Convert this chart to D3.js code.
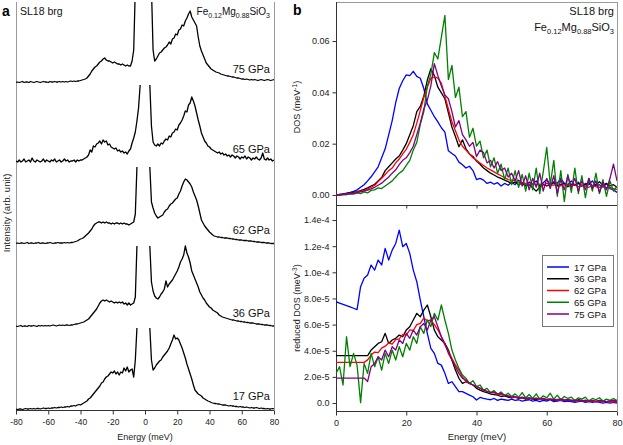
<!DOCTYPE html>
<html><head><meta charset="utf-8">
<script src="https://cdn.jsdelivr.net/npm/d3@7"></script>
<style>body{margin:0;background:#fff}svg{display:block}text{font-family:"Liberation Sans",Arial,Helvetica,sans-serif}</style>
</head><body>
<svg id="c" width="623" height="445"></svg>
<script>
// ---------- DATA ----------
// Panel a: NRIXS spectra, energy grid -80..80 meV (1 meV), intensity in arb. units, null = elastic peak (clipped)
const energyA = d3.range(-80, 81);
const pressureLabels = ["17 GPa", "36 GPa", "62 GPa", "65 GPa", "75 GPa"];
const spec17 = [1,0.5,1,1,0.5,1,1.5,1,1,1.5, 1,1.5,1,1.5,1.5,1,1.5,2,1.5,1.5, 2,1.5,2,2,2.5,2,2.5,2.5,3,2.5, 3,3,3.5,3,4,
  4,4.5,4,5,5.5,5,6,7,8,9, 11,12,14,16,18,20,22,24,27,28, 31,33,34,36,38,37,39,36,38,35, 38,37,42,39,43,38,40,41,33,50, 82,
  null,null,null,null,null,null,null,
  82,50,40,42,45,47,49,50,53,55, 57,59,62,66,70,75,71,72,70,66, 62,57,52,46,41,36,31,25,20,18, 16,15,14,12,11,10,9,8.5,7.5,7,
  6.5,6.5,6,6,5.5,5,5,5,4.5,4, 4.5,4,4,3.5,3.5,3,3.5,3,3,2.5, 3,2.5,2,2.5,2,2,2.5,2,1.5,2, 1.5,1.5,1,1.5,1,1,1.5,1];
const spec36 = [1,0.5,1,1.5,0.5,1,1,0.5,1.5,1, 1,1.5,1,0.5,1.5,1,1.5,1,1.5,1, 1.5,1,1.5,2,1.5,1,1.5,2,1.5,2, 1.5,2,2,1.5,2,
  2,2.5,3,3,3.5,4,4.5,5,6,7, 8,10,12,14,16,18,21,24,26,27, 26,27,26,25,26,25,24,25,24,25, 24,25,23,24,22,24,22,23,24,30, 81,
  null,null,null,null,null,null,null,
  81,45,36,31,29,28,30,33,35,38, 46,40,43,45,47,50,53,56,60,65, 68,72,81,74,70,64,56,52,48,44, 40,35,32,29,27,24,22,20,19,17,
  16,15,14,12,11,10,9.5,9,8.5,8, 7.5,7,7,6.5,6,6,5.5,5.5,5,5, 4.5,4.5,4,4,4,3.5,3,3,3,2.5, 2.5,2,2,2,1.5,1.5,1,1];
const spec62 = [0.5,1,0.5,1,1,0.5,1,1.5,0.5,1, 1,0.5,1,1,1.5,0.5,1,1,0.5,1, 1,1.5,1,0.5,1,1,1.5,1,1,1, 1.5,1,1.5,1,1.5,
  1.5,2,2.5,3,4,5,5.5,6.5,8,9.5, 11,13,15,18,20,21,22,22,21,22, 21,22,21,21,20,21,20,21,21,20, 21,20,21,20,20,19,20,21,22,30, 77,
  null,null,null,null,null,null,null,
  77,42,36,31,28,26,27,28,29,32, 34,35,38,40,41,43,45,46,50,53, 58,62,65,64,62,60,57,52,48,44, 38,31,24,21,18,16,14,12,10.5,9,
  8,7.5,7,7,6.5,6.5,6,6,6,5.5, 5.5,5,5,4.5,4.5,4,4,4,3.5,3.5, 3.5,3,3,3,2.5,2.5,2,2,2,1.5, 1.5,1.5,1,1,1,0.5,0.5,0.5];
const spec65 = [2,1,3,1,2,4,1,2,3,1, 5,2,1,3,2,1,2,4,1,3, 2,1,3,2,4,1,2,3,1,2, 4,2,3,1,2,
  2,3,1,3,2,3,3,4,5,6, 8,13,11,17,16,19,20,22,19,23, 21,22,18,19,16,15,14,15,12,13, 11,12,10,11,9,12,14,20,25,31, 42,55,78,
  null,null,null,null,null,
  78,37,21,18,17,19,17,20,19,22, 24,23,27,26,30,31,34,33,38,40, 43,47,52,51,58,60,66,62,57,50, 43,37,30,26,22,20,17,16,14,13,
  12,11,10,11,9,10,8,9,7,8, 6,8,7,5,7,6,4,6,5,7, 4,6,5,3,5,4,6,4,3,5, 10,4,3,5,3,4,2,3];
const spec75 = [0.5,1,0.5,1,1.5,0.5,1,1,0.5,1.5, 1,0.5,1,1.5,1,0.5,1,1.5,1,1, 0.5,1.5,1,1,1.5,1,1,1.5,1,1.5, 1,1.5,1,1.5,2,
  1.5,2,1.5,2,2,2.5,3,3.5,4,5, 7,9,12,14,16,17,19,21,22,24, 25,23,22,22,21,20,21,20,19,19, 18,19,18,17,18,17,17,22,33,95,
  null,null,null,null,null,null,null,null,null,
  95,33,22,24,27,30,31,33,35,36, 38,41,39,44,45,49,48,53,54,58, 57,62,65,69,72,66,63,60,57,46, 37,32,28,24,20,18,16,14,13,12,
  11,10.5,10,9,8.5,8,7.5,7,7,6.5, 6,6,5.5,5,5,4.5,4,4,3.5,4, 3.5,3,3.5,3,3.5,3,2.5,3,3.5,3, 2.5,3,3.5,3,2.5,3,3.5];
const ticksA = [-80, -60, -40, -20, 0, 20, 40, 60, 80];
const tickLabelsA = ["-80", "-60", "-40", "-20", "0", "20", "40", "60", "80"];

// Panel b: energy grid 0..80 meV (1 meV)
const energyB = d3.range(0, 81);
const legendLabels = ["17 GPa", "36 GPa", "62 GPa", "65 GPa", "75 GPa"];
// DOS (meV^-1)
const dos17 = [0,0.0002,0.0004,0.0007,0.001,0.0014,0.002,0.003,0.004,0.0055, 0.0071,0.009,0.011,0.0145,0.018,0.0234,0.029,0.036,0.0415,0.0445,
  0.0468,0.0465,0.0482,0.0462,0.0455,0.0415,0.0355,0.033,0.0305,0.0285, 0.0262,0.0245,0.0172,0.0162,0.0152,0.0128,0.0118,0.0105,0.0112,0.0095,
  0.006,0.0065,0.0058,0.0045,0.005,0.0042,0.0048,0.0035,0.0045,0.0038, 0.005,0.004,0.0058,0.0045,0.0038,0.005,0.0042,0.0055,0.0035,0.0048,
  0.006,0.004,0.0052,0.0045,0.0065,0.0045,0.004,0.0055,0.0038,0.005, 0.0035,0.0045,0.004,0.0055,0.0035,0.004,0.003,0.0045,0.0025,0.002, 0.001];
const dos36 = [0,0.0001,0.0003,0.0005,0.0007,0.001,0.0013,0.0017,0.0022,0.0028, 0.0035,0.0042,0.0055,0.0068,0.0095,0.011,0.0125,0.014,0.0152,0.0175,
  0.02,0.0235,0.027,0.0325,0.0345,0.0385,0.0448,0.0492,0.0465,0.042, 0.0398,0.0375,0.032,0.0265,0.0228,0.0188,0.0215,0.018,0.016,0.015,
  0.0132,0.012,0.0105,0.0095,0.0085,0.0078,0.007,0.0065,0.0058,0.0052, 0.0045,0.005,0.004,0.0045,0.0035,0.004,0.0028,0.0015,0.003,0.0042,
  0.0035,0.004,0.0048,0.0035,0.004,0.0045,0.0032,0.0042,0.0038,0.0045, 0.0035,0.004,0.0048,0.0035,0.004,0.0052,0.0038,0.0045,0.0035,0.004, 0.003];
const dos62 = [0,0.0001,0.0002,0.0004,0.0006,0.0008,0.0011,0.0014,0.0018,0.0023, 0.003,0.0037,0.0052,0.0065,0.008,0.0095,0.0105,0.0125,0.014,0.016,
  0.0178,0.0205,0.0235,0.028,0.033,0.038,0.042,0.0455,0.046,0.0455, 0.0435,0.0385,0.0335,0.0285,0.025,0.0215,0.019,0.0175,0.016,0.0145,
  0.0135,0.0125,0.0115,0.0105,0.0098,0.009,0.0082,0.0075,0.0068,0.006, 0.0058,0.0055,0.005,0.0048,0.0045,0.0042,0.0045,0.004,0.0042,0.0038,
  0.0045,0.004,0.0038,0.0042,0.0035,0.004,0.0038,0.0035,0.004,0.0032, 0.0038,0.0035,0.003,0.0038,0.0032,0.003,0.0035,0.0028,0.003,0.0025, 0.0022];
const dos65 = [0,0,0.0002,0.0001,0.0004,0.0003,0.0008,0.0005,0.0012,0.0008, 0.0018,0.002,0.0028,0.0025,0.0035,0.0045,0.0055,0.007,0.0085,0.0095,
  0.0115,0.0135,0.0175,0.0205,0.0275,0.0325,0.0425,0.047,0.0555,0.053, 0.0615,0.07,0.045,0.0505,0.038,0.042,0.0305,0.0325,0.0225,0.026,
  0.019,0.021,0.0145,0.0175,0.011,0.0145,0.0085,0.012,0.006,0.0105, 0.004,0.0095,0.003,0.008,0.0015,0.0085,0.002,0.0105,0.0005,0.009,
  0.0185,0.004,0.0135,-0.0005,0.0095,-0.0025,0.008,0.001,0.0105,0.0005, 0.0075,-0.001,0.0065,0.0015,0.0085,0.0005,0.006,-0.0005,0.0055,0.0015, 0.0035];
const dos75 = [0,0.0001,0.0002,0.0003,0.0005,0.0006,0.0009,0.0012,0.0015,0.0019, 0.0024,0.003,0.0038,0.0046,0.0058,0.007,0.0085,0.0098,0.0118,0.0135,
  0.0145,0.0165,0.019,0.0235,0.028,0.0335,0.037,0.0425,0.0512,0.0465, 0.0425,0.039,0.0375,0.0325,0.0265,0.029,0.0235,0.0215,0.019,0.0205,
  0.015,0.0175,0.0165,0.0125,0.0135,0.0105,0.013,0.0095,0.0105,0.007, 0.0085,0.0055,0.0095,0.0035,0.0075,0.002,0.0065,0.003,0.0085,0.0015,
  0.0065,0.0025,0.0075,0.0005,0.006,0.002,0.0075,0.003,0.0065,0.0015, 0.0055,0.002,0.0065,0.0025,0.0055,0.001,0.005,0.002,0.0065,0.012, 0.0055];
// reduced DOS, in units of 1e-5 meV^-3
const rdos17 = [7.75,7.65,7.55,7.45,7.35,7.25,7.15,8.9,9.54,9.79, 10.56,10.17,10.94,10.56,11.83,10.94,11.7,12.21,13.23,11.96,
  12.21,11.45,10.17,9.28,7.88,6.6,5.33,4.18,3.8,3.03, 2.9,2.27,1.5,1.63,1.25,0.87,0.87,0.74,0.61,0.48,
  0.23,0.43,0.36,0.3,0.25,0.35,0.2,0.3,0.25,0.2, 0.3,0.2,0.25,0.15,0.2,0.25,0.15,0.2,0.1,0.2,
  0.15,0.25,0.1,0.15,0.2,0.1,0.15,0.1,0.05,0.1, 0.15,0.05,0.1,0.05,0.1,0.05,0,0.05,0,0.05, 0];
const rdos36 = [3.62,3.62,3.62,3.62,3.62,3.62,3.62,3.62,3.62,3.62, 4.05,4.31,4.56,4.69,5.33,4.56,4.82,4.95,5.2,5.07,
  5.58,5.84,6.35,6.86,6.6,7.11,7.5,6.6,5.58,5.07, 4.82,4.56,4.05,3.29,2.52,1.89,1.5,1.63,1.5,1.38,
  1.12,0.99,0.87,0.79,0.69,0.65,0.6,0.5,0.55,0.45, 0.4,0.45,0.35,0.4,0.3,0.35,0.3,0.25,0.35,0.3,
  0.25,0.3,0.2,0.25,0.3,0.2,0.25,0.2,0.15,0.25, 0.2,0.15,0.2,0.15,0.1,0.2,0.15,0.1,0.15,0.2, 0.15];
const rdos62 = [3.11,3.11,3.11,3.11,3.11,3.11,3.11,3.11,3.11,3.3, 3.67,3.9,3.85,4.2,4.35,4.6,4.5,4.85,4.9,5.25,
  5.2,5.6,5.55,6.0,6.1,6.5,6.3,6.35,6.0,5.6, 5.07,4.44,3.93,3.42,2.91,2.52,2.01,1.63,1.5,1.38,
  1.25,1.12,0.99,0.9,0.82,0.77,0.7,0.65,0.6,0.55, 0.43,0.45,0.4,0.42,0.35,0.4,0.33,0.35,0.3,0.32,
  0.28,0.3,0.25,0.28,0.22,0.25,0.2,0.22,0.18,0.2, 0.15,0.18,0.15,0.12,0.15,0.1,0.12,0.1,0.08,0.1, 0.08];
const rdos65 = [2.27,2.78,1.38,5.07,2.78,3.8,2.9,0.03,3.03,2.27, 3.8,2.78,3.54,2.52,3.8,3.03,4.05,3.29,4.31,3.54,
  4.56,4.05,5.07,4.56,5.84,5.33,6.35,5.84,6.86,6.35, 7.5,6.35,5.33,4.05,3.29,2.65,2.14,1.89,1.5,1.71,
  1.25,1.38,0.99,1.12,0.79,0.95,0.65,0.85,0.55,0.75, 0.5,0.7,0.45,0.8,0.4,0.65,0.35,0.7,0.3,0.55,
  0.4,0.75,0.3,0.6,0.25,0.5,0.35,0.45,0.2,0.4, 0.3,0.45,0.15,0.35,0.25,0.4,0.15,0.3,0.2,0.35, 0.2];
const rdos75 = [1.91,1.91,1.91,1.91,1.91,1.91,1.91,1.91,1.91,1.65, 2.78,3.03,3.54,3.29,4.05,3.54,4.31,4.05,4.82,4.56,
  5.33,4.95,5.58,5.2,5.84,6.09,5.58,6.35,6.6,5.84, 5.07,4.56,3.8,3.29,2.78,2.27,1.89,1.76,1.5,1.38,
  1.25,1.15,1.0,0.9,0.8,0.85,0.7,0.75,0.6,0.55, 0.45,0.5,0.4,0.45,0.35,0.4,0.3,0.38,0.3,0.35,
  0.25,0.3,0.28,0.22,0.3,0.2,0.25,0.18,0.22,0.2, 0.15,0.22,0.15,0.2,0.12,0.18,0.15,0.1,0.15,0.2, 0.1];
const ticksB = [0, 20, 40, 60, 80];
const dosTicks = [0, 0.02, 0.04, 0.06];
const dosTickLabels = ["0.00", "0.02", "0.04", "0.06"];
const rdosTicks = [0, 2, 4, 6, 8, 10, 12, 14];
const rdosTickLabels = ["0.0", "2.0e-5", "4.0e-5", "6.0e-5", "8.0e-5", "1.0e-4", "1.2e-4", "1.4e-4"];

// ---------- DRAWING ----------
const svg = d3.select("#c");
const AX = "#333", BORDER = "#9a9a9a";
const colors = ["#0000ff", "#000000", "#ff0000", "#008000", "#800080"];

function styleAxis(g, fs) {
  g.select(".domain").remove();
  g.selectAll(".tick line").attr("stroke", AX);
  g.selectAll(".tick text").attr("font-size", fs).attr("fill", "#222")
    .attr("font-family", '"Liberation Sans",Arial,sans-serif');
}
function hline(x1, x2, y, c) { svg.append("line").attr("x1", x1).attr("x2", x2).attr("y1", y).attr("y2", y).attr("stroke", c).attr("stroke-width", 1); }
function vline(x, y1, y2, c) { svg.append("line").attr("x1", x).attr("x2", x).attr("y1", y1).attr("y2", y2).attr("stroke", c).attr("stroke-width", 1); }

// ---- Panel a ----
const xA = d3.scaleLinear().domain([-80, 80]).range([16, 274]);
const yA = d3.scaleLinear().domain([0, 408]).range([410, 2]);
const defs = svg.append("defs");
defs.append("clipPath").attr("id", "clipA").append("rect").attr("x", 16).attr("y", 2).attr("width", 258).attr("height", 408);
defs.append("clipPath").attr("id", "clipT").append("rect").attr("x", 336).attr("y", 2).attr("width", 281).attr("height", 203);
defs.append("clipPath").attr("id", "clipB").append("rect").attr("x", 336).attr("y", 205).attr("width", 281).attr("height", 206);

vline(16.5, 2, 410, BORDER);
vline(274.5, 2, 410, BORDER);
const gAx = svg.append("g").attr("transform", "translate(0,410.5)")
  .call(d3.axisBottom(xA).tickValues(ticksA).tickSize(4).tickPadding(4).tickFormat((d, i) => tickLabelsA[i]));
styleAxis(gAx, "8.5px");
hline(16, 274, 410.5, AX);

const spectra = [spec17, spec36, spec62, spec65, spec75];
const offsetsA = [0, 83, 166, 247, 327];
const gA = svg.append("g").attr("clip-path", "url(#clipA)");
spectra.forEach((s, k) => {
  const pts = energyA.map((e, i) => [e, s[i]]);
  const line = d3.line().defined(d => d[1] != null).x(d => xA(d[0])).y(d => yA(d[1] + offsetsA[k]));
  gA.append("path").attr("d", line(pts)).attr("fill", "none").attr("stroke", "#000").attr("stroke-width", 1.3).attr("stroke-linejoin", "round");
});
pressureLabels.forEach((t, k) => {
  svg.append("text").attr("x", 270).attr("y", yA(offsetsA[k]) - 10).attr("text-anchor", "end").attr("font-size", "11px").attr("fill", "#111").text(t);
});
svg.append("text").attr("x", 145).attr("y", 440).attr("text-anchor", "middle").attr("font-size", "9px").attr("fill", "#222").text("Energy (meV)");
svg.append("text").attr("transform", "translate(10,213) rotate(-90)").attr("text-anchor", "middle").attr("font-size", "9.5px").attr("fill", "#222").text("Intensity (arb. unit)");
svg.append("text").attr("x", 20).attr("y", 15).attr("font-size", "10.5px").attr("fill", "#111").text("SL18 brg");

function formula(x, y, fs, sub) {
  const t = svg.append("text").attr("x", x).attr("y", y).attr("text-anchor", "end").attr("font-size", fs).attr("fill", "#111");
  const parts = [["Fe", 0], ["0.12", 1], ["Mg", 0], ["0.88", 1], ["SiO", 0], ["3", 1]];
  parts.forEach(([s, isSub]) => {
    const ts = t.append("tspan").text(s);
    if (isSub) ts.attr("font-size", sub).attr("dy", "3");
    else ts.attr("dy", t.node().childNodes.length > 1 ? "-3" : "0");
  });
}
formula(270, 15, "10px", "7px");

svg.append("text").attr("x", 2).attr("y", 16).attr("font-size", "14px").attr("font-weight", "bold").attr("fill", "#000").text("a");
svg.append("text").attr("x", 293).attr("y", 15).attr("font-size", "14px").attr("font-weight", "bold").attr("fill", "#000").text("b");

// ---- Panel b ----
const xB = d3.scaleLinear().domain([0, 80]).range([336, 617]);
const yT = d3.scaleLinear().domain([-0.0039, 0.0752]).range([205, 2]);
const yR = d3.scaleLinear().domain([-0.61, 15.15]).range([411, 205]);

hline(336, 617, 2.5, BORDER);
vline(617.5, 2, 411, BORDER);

const gTy = svg.append("g").attr("transform", "translate(336.5,0)")
  .call(d3.axisLeft(yT).tickValues(dosTicks).tickSize(4).tickPadding(3).tickFormat((d, i) => dosTickLabels[i]));
styleAxis(gTy, "9px");
const gRy = svg.append("g").attr("transform", "translate(336.5,0)")
  .call(d3.axisLeft(yR).tickValues(rdosTicks).tickSize(4).tickPadding(3).tickFormat((d, i) => rdosTickLabels[i]));
styleAxis(gRy, "9px");
const gTx = svg.append("g").attr("transform", "translate(0,205.5)")
  .call(d3.axisBottom(xB).tickValues([20, 40, 60]).tickSize(3).tickFormat(""));
styleAxis(gTx, "9px");
const gBx = svg.append("g").attr("transform", "translate(0,411.5)")
  .call(d3.axisBottom(xB).tickValues(ticksB).tickSize(4).tickPadding(4));
styleAxis(gBx, "9px");
vline(336.5, 2, 412, AX);
hline(336, 617, 205.5, AX);
hline(336, 617, 411.5, AX);

const dosSeries = [dos17, dos36, dos62, dos65, dos75];
const rdosSeries = [rdos17, rdos36, rdos62, rdos65, rdos75];
const gT = svg.append("g").attr("clip-path", "url(#clipT)");
const gB = svg.append("g").attr("clip-path", "url(#clipB)");
const lineT = d3.line().x(d => xB(d[0])).y(d => yT(d[1]));
const lineB = d3.line().x(d => xB(d[0])).y(d => yR(d[1]));
dosSeries.forEach((s, k) => {
  gT.append("path").attr("d", lineT(energyB.map((e, i) => [e, s[i]]))).attr("fill", "none").attr("stroke", colors[k]).attr("stroke-width", 1.3).attr("stroke-linejoin", "round");
});
rdosSeries.forEach((s, k) => {
  gB.append("path").attr("d", lineB(energyB.map((e, i) => [e, s[i]]))).attr("fill", "none").attr("stroke", colors[k]).attr("stroke-width", 1.3).attr("stroke-linejoin", "round");
});

svg.append("text").attr("x", 614).attr("y", 15).attr("text-anchor", "end").attr("font-size", "11px").attr("fill", "#111").text("SL18 brg");
formula(614, 31, "11px", "7.5px");

// y labels with superscripts
function ylab(x, y, pre, sup) {
  const t = svg.append("text").attr("transform", `translate(${x},${y}) rotate(-90)`).attr("text-anchor", "middle").attr("font-size", "9px").attr("fill", "#222");
  t.append("tspan").text(pre);
  t.append("tspan").attr("font-size", "6.5px").attr("dy", "-3.5").text(sup);
  t.append("tspan").attr("dy", "3.5").text(")");
}
ylab(300, 107, "DOS (meV", "-1");
ylab(300, 308, "reduced DOS (meV", "-3");
svg.append("text").attr("x", 477).attr("y", 440).attr("text-anchor", "middle").attr("font-size", "9.5px").attr("fill", "#222").text("Energy (meV)");

// legend
const lg = svg.append("g");
lg.append("rect").attr("x", 542.5).attr("y", 255.5).attr("width", 71).attr("height", 71).attr("fill", "#fff").attr("stroke", "#777").attr("stroke-width", 1);
const legY = d3.scalePoint().domain(legendLabels).range([267, 314]);
legendLabels.forEach((t, k) => {
  lg.append("line").attr("x1", 547).attr("x2", 569).attr("y1", legY(t)).attr("y2", legY(t)).attr("stroke", colors[k]).attr("stroke-width", 1.5);
  lg.append("text").attr("x", 574).attr("y", legY(t) + 3.5).attr("font-size", "9.5px").attr("fill", "#111").text(t);
});
</script>
</body></html>
